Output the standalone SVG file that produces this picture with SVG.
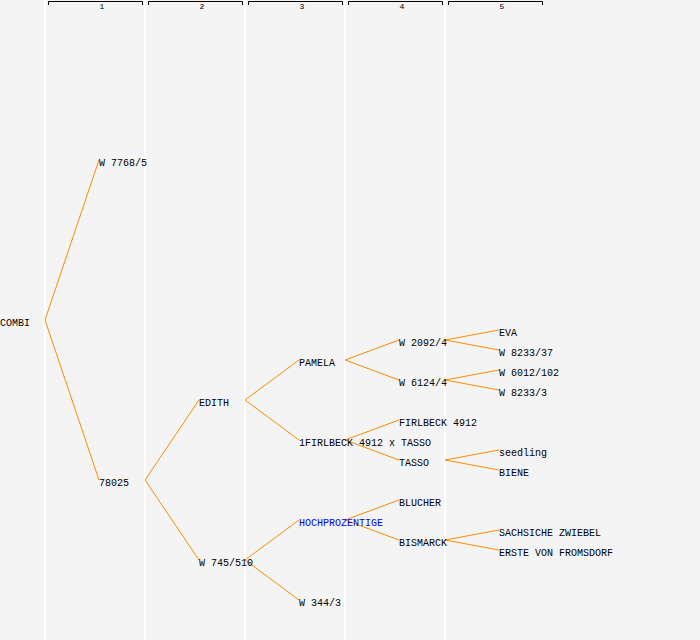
<svg xmlns="http://www.w3.org/2000/svg" width="700" height="640" viewBox="0 0 700 640">
<style>
.col{stroke:#ffffff;stroke-width:2}
.br{fill:none;stroke:#000;stroke-width:1}
.hd{font-family:"Liberation Mono","DejaVu Sans Mono",monospace;font-size:8px;fill:#000;text-anchor:middle}
.t{font-family:"Liberation Mono","DejaVu Sans Mono",monospace;font-size:10px;fill:#000}
.blue{fill:#0000ff}
.e{stroke:#ff8c00;stroke-width:1;fill:none}
</style>
<rect width="700" height="640" fill="#f4f4f4"/>
<g id="columns">
<line class="col" x1="45" y1="0" x2="45" y2="640"/>
<line class="col" x1="145" y1="0" x2="145" y2="640"/>
<line class="col" x1="245" y1="0" x2="245" y2="640"/>
<line class="col" x1="345" y1="0" x2="345" y2="640"/>
<line class="col" x1="445" y1="0" x2="445" y2="640"/>
</g>
<g id="header">
<path class="br" d="M48.5,5 V1.5 H142.5 V5"/>
<path class="br" d="M148.5,5 V1.5 H242.5 V5"/>
<path class="br" d="M248.5,5 V1.5 H342.5 V5"/>
<path class="br" d="M348.5,5 V1.5 H442.5 V5"/>
<path class="br" d="M448.5,5 V1.5 H542.5 V5"/>
<text class="hd" x="102" y="9">1</text>
<text class="hd" x="202" y="9">2</text>
<text class="hd" x="302" y="9">3</text>
<text class="hd" x="402" y="9">4</text>
<text class="hd" x="502" y="9">5</text>
</g>
<g id="connectors">
<line class="e" x1="45" y1="320" x2="99" y2="160"/>
<line class="e" x1="45" y1="320" x2="99" y2="480"/>
<line class="e" x1="145" y1="480" x2="199" y2="400"/>
<line class="e" x1="145" y1="480" x2="199" y2="560"/>
<line class="e" x1="245" y1="400" x2="299" y2="360"/>
<line class="e" x1="245" y1="400" x2="299" y2="440"/>
<line class="e" x1="245" y1="560" x2="299" y2="520"/>
<line class="e" x1="245" y1="560" x2="299" y2="600"/>
<line class="e" x1="345" y1="360" x2="399" y2="340"/>
<line class="e" x1="345" y1="360" x2="399" y2="380"/>
<line class="e" x1="345" y1="440" x2="399" y2="420"/>
<line class="e" x1="345" y1="440" x2="399" y2="460"/>
<line class="e" x1="345" y1="520" x2="399" y2="500"/>
<line class="e" x1="345" y1="520" x2="399" y2="540"/>
<line class="e" x1="445" y1="340" x2="499" y2="330"/>
<line class="e" x1="445" y1="340" x2="499" y2="350"/>
<line class="e" x1="445" y1="380" x2="499" y2="370"/>
<line class="e" x1="445" y1="380" x2="499" y2="390"/>
<line class="e" x1="445" y1="460" x2="499" y2="450"/>
<line class="e" x1="445" y1="460" x2="499" y2="470"/>
<line class="e" x1="445" y1="540" x2="499" y2="530"/>
<line class="e" x1="445" y1="540" x2="499" y2="550"/>
</g>
<g id="n-combi"><text class="t" x="0" y="326">COMBI</text></g>
<g id="n-w7768"><text class="t" x="99" y="166">W 7768/5</text></g>
<g id="n-78025"><text class="t" x="99" y="486">78025</text></g>
<g id="n-edith"><text class="t" x="199" y="406">EDITH</text></g>
<g id="n-w745"><text class="t" x="199" y="566">W 745/510</text></g>
<g id="n-pamela"><text class="t" x="299" y="366">PAMELA</text></g>
<g id="n-1firlbeck"><text class="t" x="299" y="446">1FIRLBECK 4912 x TASSO</text></g>
<g id="n-hoch"><text class="t blue" x="299" y="526">HOCHPROZENTIGE</text></g>
<g id="n-w344"><text class="t" x="299" y="606">W 344/3</text></g>
<g id="n-w2092"><text class="t" x="399" y="346">W 2092/4</text></g>
<g id="n-w6124"><text class="t" x="399" y="386">W 6124/4</text></g>
<g id="n-firlbeck"><text class="t" x="399" y="426">FIRLBECK 4912</text></g>
<g id="n-tasso"><text class="t" x="399" y="466">TASSO</text></g>
<g id="n-blucher"><text class="t" x="399" y="506">BLUCHER</text></g>
<g id="n-bismarck"><text class="t" x="399" y="546">BISMARCK</text></g>
<g id="n-eva"><text class="t" x="499" y="336">EVA</text></g>
<g id="n-w8233-37"><text class="t" x="499" y="356">W 8233/37</text></g>
<g id="n-w6012"><text class="t" x="499" y="376">W 6012/102</text></g>
<g id="n-w8233-3"><text class="t" x="499" y="396">W 8233/3</text></g>
<g id="n-seedling"><text class="t" x="499" y="456">seedling</text></g>
<g id="n-biene"><text class="t" x="499" y="476">BIENE</text></g>
<g id="n-sachsiche"><text class="t" x="499" y="536">SACHSICHE ZWIEBEL</text></g>
<g id="n-erste"><text class="t" x="499" y="556">ERSTE VON FROMSDORF</text></g>
</svg>
